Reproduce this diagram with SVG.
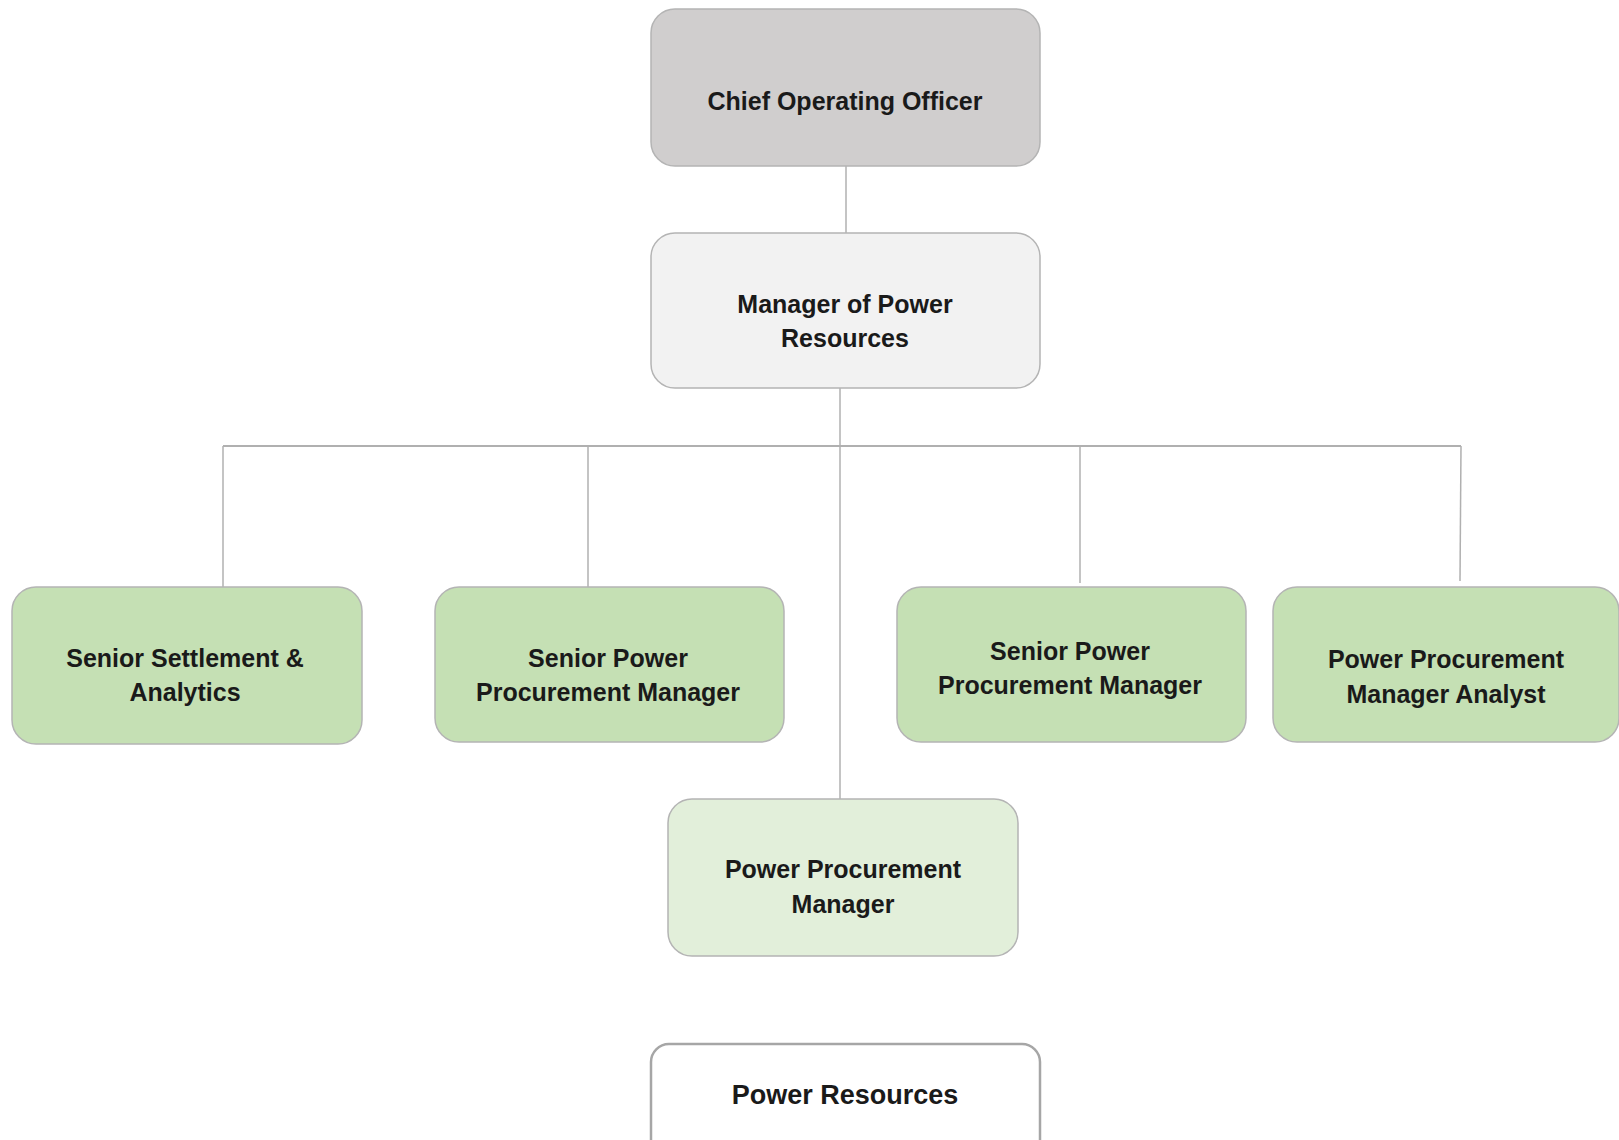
<svg xmlns="http://www.w3.org/2000/svg" width="1619" height="1140" viewBox="0 0 1619 1140">
<style>
.box{stroke:#b4b4b4;stroke-width:1.5}
.t{font-family:"Liberation Sans",Arial,sans-serif;font-weight:bold;font-size:25px;fill:#1a1a1a;text-anchor:middle}
.c{stroke:#b0b0b0;stroke-width:1.5;fill:none}
</style>
<rect width="1619" height="1140" fill="#ffffff"/>
<g id="connectors">
<line class="c" x1="846" y1="166" x2="846" y2="233"/>
<line class="c" x1="840" y1="388" x2="840" y2="799"/>
<line class="c" x1="223" y1="446" x2="1461" y2="446" style="stroke-width:2"/>
<line class="c" x1="223" y1="446" x2="223" y2="587"/>
<line class="c" x1="588" y1="446" x2="588" y2="587"/>
<line class="c" x1="1080" y1="446" x2="1080" y2="583"/>
<line class="c" x1="1461" y1="446" x2="1460" y2="581"/>
</g>
<g id="coo">
<rect class="box" x="651" y="9" width="389" height="157" rx="24" fill="#d0cece"/>
<text class="t" x="845" y="110">Chief Operating Officer</text>
</g>
<g id="manager">
<rect class="box" x="651" y="233" width="389" height="155" rx="24" fill="#f2f2f2"/>
<text class="t" x="845" y="313">Manager of Power</text>
<text class="t" x="845" y="347">Resources</text>
</g>
<g id="senior-settlement">
<rect class="box" x="12" y="587" width="350" height="157" rx="24" fill="#c5e0b4"/>
<text class="t" x="185" y="667">Senior Settlement &amp;</text>
<text class="t" x="185" y="701">Analytics</text>
</g>
<g id="senior-ppm-1">
<rect class="box" x="435" y="587" width="349" height="155" rx="24" fill="#c5e0b4"/>
<text class="t" x="608" y="667">Senior Power</text>
<text class="t" x="608" y="701">Procurement Manager</text>
</g>
<g id="senior-ppm-2">
<rect class="box" x="897" y="587" width="349" height="155" rx="24" fill="#c5e0b4"/>
<text class="t" x="1070" y="660">Senior Power</text>
<text class="t" x="1070" y="694">Procurement Manager</text>
</g>
<g id="ppm-analyst">
<rect class="box" x="1273" y="587" width="346" height="155" rx="24" fill="#c5e0b4"/>
<text class="t" x="1446" y="668">Power Procurement</text>
<text class="t" x="1446" y="703">Manager Analyst</text>
</g>
<g id="ppm">
<rect class="box" x="668" y="799" width="350" height="157" rx="24" fill="#e2efda"/>
<text class="t" x="843" y="878">Power Procurement</text>
<text class="t" x="843" y="913">Manager</text>
</g>
<g id="power-resources">
<rect x="651" y="1044" width="389" height="120" rx="18" fill="#ffffff" stroke="#a6a6a6" stroke-width="2.5"/>
<text class="t" x="845" y="1104" style="font-size:27px">Power Resources</text>
</g>
</svg>
